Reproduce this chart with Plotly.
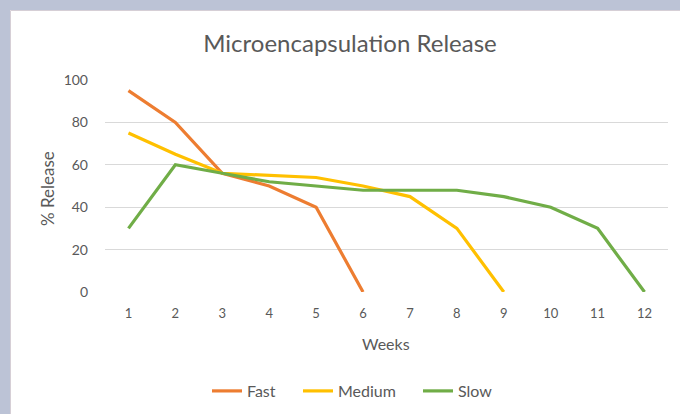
import plotly.graph_objects as go

weeks = list(range(1, 13))
fast = [95, 80, 56, 50, 40, 0]
medium = [75, 65, 56, 55, 54, 50, 45, 30, 0]
slow = [30, 60, 56, 52, 50, 48, 48, 48, 45, 40, 30, 0]
y_ticks = [0, 20, 40, 60, 80, 100]

FONT = "Lato, Open Sans, sans-serif"
TXT = "#595959"
BAND = "#BCC3D6"

L, R, T, B = 105, 12, 80, 122
W, H = 680, 414
pw, ph = W - L - R, H - T - B

def px(x):
    return (x - L) / pw

def py(y):
    return (H - B - y) / ph

series = [("Fast", fast, "#ED7D31", "legend", 207),
          ("Medium", medium, "#FFC000", "legend2", 298),
          ("Slow", slow, "#70AD47", "legend3", 418)]

fig = go.Figure()
legends = {}
for name, vals, col, lg, lx in series:
    fig.add_trace(go.Scatter(x=weeks[:len(vals)], y=vals, name=name, mode="lines", legend=lg,
                             line=dict(color=col, width=3.2)))
    legends[lg] = dict(orientation="h", x=px(lx), y=py(391), xanchor="left", yanchor="middle",
                       font=dict(size=16, color=TXT), bgcolor="rgba(0,0,0,0)")

# blue frame bands (top and left) around the white chart area
fig.add_shape(type="rect", xref="paper", yref="paper", x0=px(-5), x1=px(700), y0=py(-5), y1=py(10),
              fillcolor=BAND, line=dict(width=0), layer="below")
fig.add_shape(type="rect", xref="paper", yref="paper", x0=px(-5), x1=px(10), y0=py(-5), y1=py(430),
              fillcolor=BAND, line=dict(width=0), layer="below")
# thin chart-area border
fig.add_shape(type="rect", xref="paper", yref="paper", x0=px(10.5), x1=px(700), y0=py(10.5), y1=py(430),
              fillcolor="rgba(0,0,0,0)", line=dict(width=1, color="#D6CFD6"), layer="below")

fig.update_layout(
    width=W, height=H, margin=dict(l=L, r=R, t=T, b=B, autoexpand=False),
    paper_bgcolor="white", plot_bgcolor="white",
    font=dict(family=FONT, color=TXT, size=12),
    title=dict(text="Microencapsulation Release", x=350 / W, y=1 - 44 / H, xanchor="center", yanchor="middle",
               xref="container", yref="container", font=dict(size=24, color=TXT, family=FONT)),
    showlegend=True,
    xaxis=dict(range=[0.5, 12.5], tickmode="array", tickvals=weeks, ticktext=[str(w) for w in weeks],
               showgrid=False, zeroline=False, showline=False, ticks="", ticklabelstandoff=12,
               tickfont=dict(size=13, color=TXT)),
    yaxis=dict(range=[0, 100], tickmode="array", tickvals=y_ticks, showgrid=True, gridcolor="#D9D9D9",
               gridwidth=1, zeroline=False, showline=False, ticks="", ticklabelstandoff=16,
               tickfont=dict(size=14, color=TXT)),
    annotations=[
        dict(text="% Release", xref="paper", yref="paper", x=px(47), y=py(189), textangle=-90,
             showarrow=False, font=dict(size=17, color=TXT), xanchor="center", yanchor="middle"),
        dict(text="Weeks", xref="paper", yref="paper", x=px(386), y=py(343),
             showarrow=False, font=dict(size=16, color=TXT), xanchor="center", yanchor="middle"),
    ],
    **legends,
)

fig.write_html("out.html", config={"displayModeBar": False},
               post_script="document.documentElement.style.overflow='hidden';"
                           "document.body.style.overflow='hidden';"
                           "document.body.style.margin='0';document.body.style.background='white';")
